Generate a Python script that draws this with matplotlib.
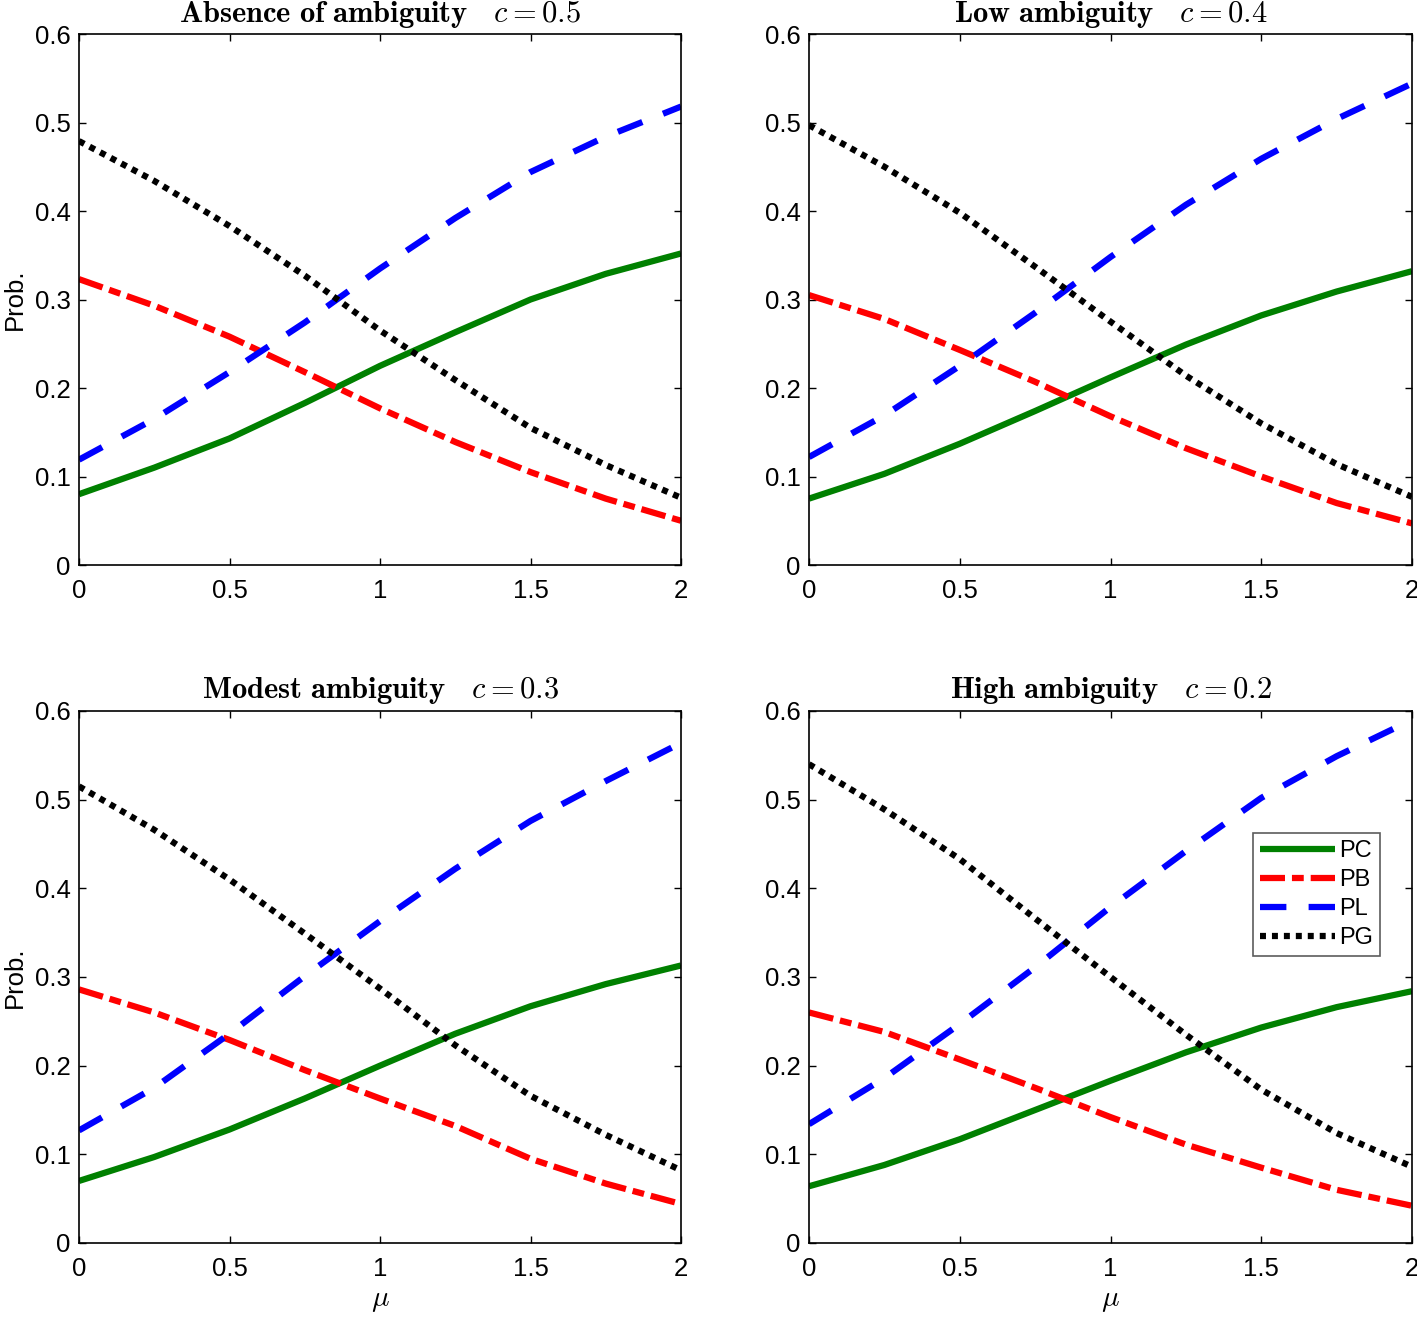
import matplotlib
matplotlib.use("Agg")
import matplotlib.pyplot as plt
import numpy as np

plt.rcParams['font.family'] = ['Liberation Sans', 'DejaVu Sans']
plt.rcParams['mathtext.fontset'] = 'cm'
plt.rcParams['lines.scale_dashes'] = False

mu = [0, 0.25, 0.5, 0.75, 1.0, 1.25, 1.5, 1.75, 2.0]

titles = [r'$\mathbf{Absence\ of\ ambiguity}\quad c = 0.5$',
          r'$\mathbf{Low\ ambiguity}\quad c = 0.4$',
          r'$\mathbf{Modest\ ambiguity}\quad c = 0.3$',
          r'$\mathbf{High\ ambiguity}\quad c = 0.2$']

# c = 0.5
pc_05 = [0.080, 0.110, 0.143, 0.183, 0.225, 0.263, 0.300, 0.329, 0.352]
pb_05 = [0.323, 0.293, 0.258, 0.218, 0.177, 0.139, 0.105, 0.075, 0.050]
pl_05 = [0.119, 0.165, 0.218, 0.274, 0.335, 0.392, 0.444, 0.484, 0.518]
pg_05 = [0.479, 0.434, 0.383, 0.327, 0.265, 0.209, 0.155, 0.113, 0.076]

# c = 0.4
pc_04 = [0.075, 0.103, 0.137, 0.174, 0.212, 0.249, 0.282, 0.309, 0.332]
pb_04 = [0.305, 0.278, 0.243, 0.207, 0.168, 0.132, 0.100, 0.070, 0.047]
pl_04 = [0.122, 0.169, 0.225, 0.285, 0.348, 0.407, 0.459, 0.504, 0.544]
pg_04 = [0.497, 0.450, 0.398, 0.337, 0.275, 0.214, 0.160, 0.114, 0.077]

# c = 0.3
pc_03 = [0.070, 0.097, 0.128, 0.163, 0.200, 0.236, 0.267, 0.292, 0.313]
pb_03 = [0.286, 0.260, 0.229, 0.195, 0.163, 0.132, 0.095, 0.067, 0.044]
pl_03 = [0.127, 0.175, 0.236, 0.301, 0.363, 0.422, 0.476, 0.521, 0.564]
pg_03 = [0.515, 0.466, 0.410, 0.349, 0.287, 0.223, 0.166, 0.122, 0.082]

# c = 0.2
pc_02 = [0.064, 0.088, 0.117, 0.150, 0.183, 0.215, 0.243, 0.266, 0.284]
pb_02 = [0.260, 0.238, 0.207, 0.175, 0.142, 0.111, 0.085, 0.060, 0.042]
pl_02 = [0.134, 0.186, 0.247, 0.311, 0.379, 0.442, 0.502, 0.549, 0.590]
pg_02 = [0.540, 0.489, 0.433, 0.366, 0.300, 0.235, 0.173, 0.124, 0.086]

panels = [(pc_05, pb_05, pl_05, pg_05), (pc_04, pb_04, pl_04, pg_04),
          (pc_03, pb_03, pl_03, pg_03), (pc_02, pb_02, pl_02, pg_02)]

W, H = 1417, 1317
fig = plt.figure(figsize=(W / 100, H / 100), dpi=100)
boxes = [(79, 34, 681, 565), (809, 34, 1412, 565),
         (79, 711, 681, 1243), (809, 711, 1412, 1243)]

for i, (box, title, series) in enumerate(zip(boxes, titles, panels)):
    x0, y0, x1, y1 = box
    ax = fig.add_axes([x0 / W, 1 - y1 / H, (x1 - x0) / W, (y1 - y0) / H])
    pc, pb, pl, pg = series
    ax.plot(mu, pc, color=(0, 0.5, 0), lw=4.5, label='PC', solid_capstyle='butt')
    ax.plot(mu, pb, color='red', lw=4.5, dashes=(18, 5, 8.5, 5), label='PB', dash_capstyle='butt')
    ax.plot(mu, pl, color='blue', lw=4.5, dashes=(19, 16), label='PL', dash_capstyle='butt')
    ax.plot(mu, pg, color='black', lw=4.5, dashes=(4.3, 4.3), label='PG', dash_capstyle='butt')

    ax.set_xlim(0, 2)
    ax.set_ylim(0, 0.6)
    ax.set_xticks([0, 0.5, 1, 1.5, 2])
    ax.set_xticklabels(['0', '0.5', '1', '1.5', '2'])
    ax.set_yticks(np.arange(0, 0.61, 0.1))
    ax.set_yticklabels(['0', '0.1', '0.2', '0.3', '0.4', '0.5', '0.6'])
    ax.tick_params(axis='both', direction='in', length=5, width=1, labelsize=18.5,
                   top=True, right=True)
    ax.tick_params(axis='x', pad=10)
    ax.tick_params(axis='y', pad=6)
    for s in ax.spines.values():
        s.set_linewidth(1.2)
    ax.set_title(title, fontsize=22, pad=9)
    if i % 2 == 0:
        ax.set_ylabel('Prob.', fontsize=18.5, labelpad=6)
    if i >= 2:
        ax.set_xlabel(r'$\mu$', fontsize=21, labelpad=4)
    if i == 3:
        leg = ax.legend(loc='upper left', bbox_to_anchor=(0.736, 0.771), fontsize=17,
                        handlelength=3.2, frameon=True, fancybox=False, borderpad=0.3,
                        labelspacing=0.3, handletextpad=0.15, borderaxespad=0)
        leg.get_frame().set_edgecolor('#333333')
        leg.get_frame().set_linewidth(1.2)

fig.savefig('out.png', dpi=100)
